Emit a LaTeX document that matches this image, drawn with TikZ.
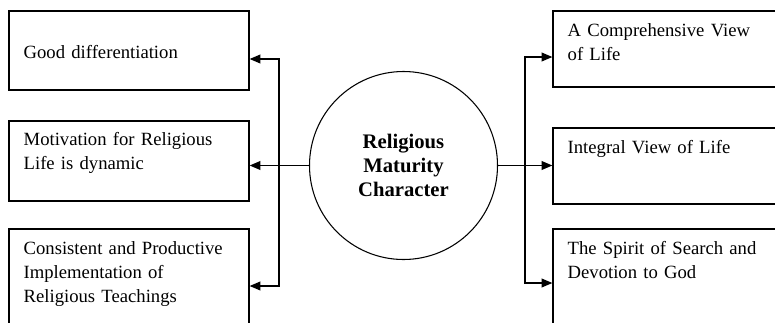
\documentclass[tikz,border=0pt]{standalone}
\usepackage{fontspec}
\setmainfont{Liberation Serif}
\usetikzlibrary{arrows.meta,positioning}
\tikzset{
  box/.style={draw, rectangle, line width=0.9pt, inner sep=0pt, minimum width=180pt},
  txt/.style={anchor=base west, inner sep=0pt, text width=170pt, align=left,
              font=\fontsize{14}{18}\selectfont},
  arr/.style={line width=1pt, >={Triangle[length=8pt,width=6.5pt]}},
}

\begin{document}
\begin{tikzpicture}[x=0.75pt, y=-0.75pt]
\useasboundingbox (0,0) rectangle (775,322);
\clip (0,0) rectangle (775,322);

% ---- Centre ----
\node[draw, circle, line width=0.8pt, minimum size=141pt, inner sep=0pt, align=center,
      font=\fontsize{15.5}{18}\selectfont\bfseries] (core) at (403.5,165.5)
      {Religious\\Maturity\\Character};

% ---- Left boxes ----
\node[box, minimum height=59.25pt] (lbox1) at (129,50.5) {};
\node[box, minimum height=60pt]    (lbox2) at (129,161)  {};
\node[box, minimum height=76.5pt]  (lbox3) at (129,280)  {};
\node[txt] (ltxt1) at ([shift={(15,48)}]lbox1.north west) {Good differentiation};
\node[txt] (ltxt2) at ([shift={(15,25)}]lbox2.north west) {Motivation for Religious\\Life is dynamic};
\node[txt] (ltxt3) at ([shift={(15,26)}]lbox3.north west) {Consistent and Productive\\Implementation of\\Religious Teachings};

% ---- Right boxes ----
\node[box, minimum height=57pt]   (rbox1) at (673,49)  {};
\node[box, minimum height=57pt]   (rbox2) at (673,166) {};
\node[box, minimum height=76.5pt] (rbox3) at (673,280) {};
\node[txt] (rtxt1) at ([shift={(15,26)}]rbox1.north west) {A Comprehensive View\\of Life};
\node[txt] (rtxt2) at ([shift={(15,26)}]rbox2.north west) {Integral View of Life};
\node[txt] (rtxt3) at ([shift={(15,26)}]rbox3.north west) {The Spirit of Search and\\Devotion to God};

% ---- Connectors: a bus on each side ----
\coordinate (lbtop) at (279,59);
\coordinate (lbbot) at (279,286);
\coordinate (rbtop) at (525,57);
\coordinate (rbbot) at (525,283);
\draw[arr, <->] (lbtop -| lbox1.east) -- (lbtop) -- (lbbot) -- (lbbot -| lbox3.east);
\draw[arr, ->]  (core.west) -- (core.west -| lbox2.east);
\draw[arr, <->] (rbtop -| rbox1.west) -- (rbtop) -- (rbbot) -- (rbbot -| rbox3.west);
\draw[arr, ->]  (core.east) -- (core.east -| rbox2.west);
\end{tikzpicture}
\end{document}
